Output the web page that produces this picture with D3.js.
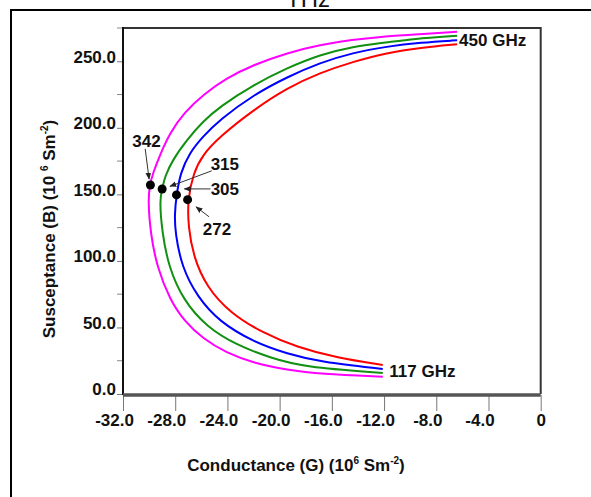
<!DOCTYPE html>
<html>
<head>
<meta charset="utf-8">
<script src="https://cdn.jsdelivr.net/npm/d3@7"></script>
<style>
  body { margin: 0; background: #fff; }
  svg text { font-family: "Liberation Sans", Arial, sans-serif; }
</style>
</head>
<body>
<div id="chart"></div>
<script>
// Admittance loci (G, B), 450 GHz end -> 117 GHz end
const curveMagenta = [[-6.4,272.2],[-9.8,269.9],[-12.3,268.4],[-14.4,266.2],[-16.9,262.4],[-19.4,256.4],[-22.0,247.4],[-24.1,237.2],[-25.8,225.3],[-27.3,211.7],[-28.4,196.2],[-29.1,181.2],[-29.7,166.2],[-29.95,157.0],[-30.08,145.9],[-29.9,121.1],[-29.4,95.5],[-28.4,70.7],[-27.3,54.7],[-25.85,41.4],[-24.1,31.0],[-22.0,23.3],[-19.4,18.0],[-16.9,15.0],[-12.1,13.0]];
const curveGreen = [[-6.4,269.2],[-9.8,266.9],[-11.8,264.1],[-14.4,261.1],[-16.9,254.9],[-19.4,245.1],[-22.0,232.3],[-24.6,215.8],[-25.9,204.5],[-27.1,191.0],[-28.2,175.9],[-28.8,163.2],[-29.0,154.0],[-29.2,145.9],[-29.0,121.1],[-28.5,95.5],[-27.4,70.7],[-25.6,50.4],[-23.3,36.8],[-20.7,27.1],[-18.2,20.3],[-12.1,15.8]];
const curveBlue = [[-6.4,265.8],[-9.2,264.1],[-11.8,261.1],[-14.4,256.4],[-16.9,248.9],[-19.4,238.3],[-22.0,224.8],[-24.6,206.0],[-25.9,193.2],[-26.9,181.2],[-27.6,166.2],[-27.9,149.6],[-28.05,135.0],[-28.0,121.1],[-27.5,95.5],[-26.3,72.9],[-24.6,54.1],[-22.0,39.1],[-19.4,30.1],[-16.9,24.1],[-12.1,18.8]];
const curveRed = [[-6.4,262.8],[-9.2,260.2],[-11.8,256.4],[-14.4,249.6],[-16.9,241.4],[-19.4,230.1],[-22.0,213.5],[-24.6,193.2],[-25.9,179.7],[-26.6,166.2],[-27.05,146.0],[-27.0,125.6],[-26.6,103.0],[-25.6,80.5],[-23.8,60.9],[-21.3,45.9],[-18.7,35.3],[-15.6,27.1],[-12.1,21.8]];
const curveColours = ['#ff00ff', '#119011', '#0000ff', '#ff0000'];

const xTicks = [-32, -28, -24, -20, -16, -12, -8, -4, 0];
const yTicks = [0, 50, 100, 150, 200, 250];
const yMinorTicks = [25, 75, 125, 175, 225, 275];

// marked points and their labels
const markerLabels = ['342', '315', '305', '272'];
const markerG = [-29.9, -29.0, -27.9, -27.05];
const markerB = [157.0, 154.0, 149.6, 146.0];
const labelG = [-30.2, -24.2, -24.2, -24.8];
const labelB = [185.7, 168.4, 149.6, 119.5];
const arrowFrom = [[-30.3,184.2], [-25.2,167.7], [-25.3,154.1], [-25.4,133.1]];
const arrowTo = [[-30.0,161.5], [-28.4,156.0], [-27.3,154.1], [-26.4,140.6]];

const endLabels = ['450 GHz', '117 GHz'];
const endLabelG = [-6.25, -11.6];
const endLabelB = [261.3, 12.8];

const config = {
  width: 591, height: 497,
  margin: { top: 28, right: 50, bottom: 103, left: 123 }
};
config.innerW = 540.7 - config.margin.left;
config.innerH = 394 - config.margin.top;

const svg = d3.select('#chart').append('svg')
  .attr('width', config.width)
  .attr('height', config.height);

svg.append('defs').append('marker')
  .attr('id', 'arrow')
  .attr('viewBox', '0 0 10 10')
  .attr('refX', 9).attr('refY', 5)
  .attr('markerWidth', 7).attr('markerHeight', 7)
  .attr('orient', 'auto')
  .append('path').attr('d', 'M0,1L10,5L0,9z').attr('fill', '#222');

// outer frame
svg.append('rect')
  .attr('x', 11).attr('y', 10)
  .attr('width', 620).attr('height', 520)
  .attr('fill', 'none').attr('stroke', '#000').attr('stroke-width', 2);

// title (cut off at the top, as in the source image)
svg.append('text')
  .attr('x', 308).attr('y', 7)
  .attr('text-anchor', 'middle')
  .attr('font-size', 24)
  .attr('fill', '#111')
  .text('THz');

const chart = svg.append('g')
  .attr('transform', `translate(${config.margin.left},${config.margin.top})`);

const x = d3.scaleLinear().domain([-32, 0]).range([0, config.innerW]);
const y = d3.scaleLinear().domain([0, 275]).range([config.innerH, 0]);

// frame top + right
chart.append('path')
  .attr('d', `M0,0H${x(0)}V${y(0)}`)
  .attr('fill', 'none').attr('stroke', '#333').attr('stroke-width', 2);

// y axis
const yAxis = chart.append('g')
  .call(d3.axisLeft(y).tickValues(yTicks).tickSize(6).tickSizeOuter(0).tickPadding(1)
    .tickFormat(d => d.toFixed(1)));
yAxis.select('.domain').remove();
yAxis.selectAll('line').attr('stroke', '#777');
yAxis.selectAll('text')
  .attr('dy', '0.05em')
  .attr('font-size', 17).attr('font-weight', 'bold').attr('fill', '#111')
  .attr('font-family', '"Liberation Sans", Arial, sans-serif');

chart.selectAll('.minor-tick')
  .data(yMinorTicks)
  .join('line')
  .attr('class', 'minor-tick')
  .attr('x1', -6).attr('x2', 0)
  .attr('y1', d => y(d)).attr('y2', d => y(d))
  .attr('stroke', '#888');

chart.append('line')
  .attr('x1', 0).attr('x2', 0)
  .attr('y1', -1).attr('y2', y(0) + 1)
  .attr('stroke', '#111').attr('stroke-width', 2);

// x axis
const xAxis = chart.append('g')
  .attr('transform', `translate(0,${y(0) + 1})`)
  .call(d3.axisBottom(x).tickValues(xTicks).tickSize(16).tickSizeOuter(0).tickPadding(3)
    .tickFormat(d => d === 0 ? '0' : d.toFixed(1)));
xAxis.select('.domain').remove();
xAxis.selectAll('line').attr('stroke', '#777');
xAxis.selectAll('text')
  .attr('dx', d => d === 0 ? 0 : -9)
  .attr('font-size', 17).attr('font-weight', 'bold').attr('fill', '#111')
  .attr('font-family', '"Liberation Sans", Arial, sans-serif');

chart.append('line')
  .attr('x1', 0).attr('x2', x(0))
  .attr('y1', y(0) + 1).attr('y2', y(0) + 1)
  .attr('stroke', '#555').attr('stroke-width', 3.5);

// axis titles
svg.append('text')
  .attr('x', 296).attr('y', 471)
  .attr('text-anchor', 'middle')
  .attr('font-size', 17).attr('font-weight', 'bold').attr('fill', '#111')
  .call(t => {
    t.append('tspan').text('Conductance (G) (10');
    t.append('tspan').attr('font-size', 10).attr('dy', -7).text('6');
    t.append('tspan').attr('dy', 7).text(' Sm');
    t.append('tspan').attr('font-size', 10).attr('dy', -7).text('-2');
    t.append('tspan').attr('dy', 7).text(')');
  });

svg.append('text')
  .attr('transform', 'translate(55,229) rotate(-90)')
  .attr('text-anchor', 'middle')
  .attr('font-size', 17).attr('font-weight', 'bold').attr('fill', '#111')
  .call(t => {
    t.append('tspan').text('Susceptance (B) (10 ');
    t.append('tspan').attr('font-size', 10).attr('dy', -7).text('6');
    t.append('tspan').attr('dy', 7).text(' Sm');
    t.append('tspan').attr('font-size', 10).attr('dy', -7).text('-2');
    t.append('tspan').attr('dy', 7).text(')');
  });

// curves
const line = d3.line()
  .x(d => x(d[0]))
  .y(d => y(d[1]))
  .curve(d3.curveBasis);

chart.selectAll('.locus')
  .data([curveMagenta, curveGreen, curveBlue, curveRed])
  .join('path')
  .attr('class', 'locus')
  .attr('d', line)
  .attr('fill', 'none')
  .attr('stroke', (d, i) => curveColours[i])
  .attr('stroke-width', 2);

// end labels
chart.selectAll('.end-label')
  .data(endLabels)
  .join('text')
  .attr('class', 'end-label')
  .attr('x', (d, i) => x(endLabelG[i]))
  .attr('y', (d, i) => y(endLabelB[i]))
  .attr('font-size', 17).attr('font-weight', 'bold').attr('fill', '#111')
  .text(d => d);

// arrows, dots, labels
chart.selectAll('.arrow')
  .data(markerLabels)
  .join('line')
  .attr('class', 'arrow')
  .attr('x1', (d, i) => x(arrowFrom[i][0]))
  .attr('y1', (d, i) => y(arrowFrom[i][1]))
  .attr('x2', (d, i) => x(arrowTo[i][0]))
  .attr('y2', (d, i) => y(arrowTo[i][1]))
  .attr('stroke', '#333').attr('stroke-width', 1)
  .attr('marker-end', 'url(#arrow)');

chart.selectAll('.marker')
  .data(markerLabels)
  .join('circle')
  .attr('class', 'marker')
  .attr('cx', (d, i) => x(markerG[i]))
  .attr('cy', (d, i) => y(markerB[i]))
  .attr('r', 4.5)
  .attr('fill', '#000');

chart.selectAll('.marker-label')
  .data(markerLabels)
  .join('text')
  .attr('class', 'marker-label')
  .attr('x', (d, i) => x(labelG[i]))
  .attr('y', (d, i) => y(labelB[i]))
  .attr('text-anchor', 'middle')
  .attr('font-size', 17).attr('font-weight', 'bold').attr('fill', '#111')
  .text(d => d);
</script>
</body>
</html>
